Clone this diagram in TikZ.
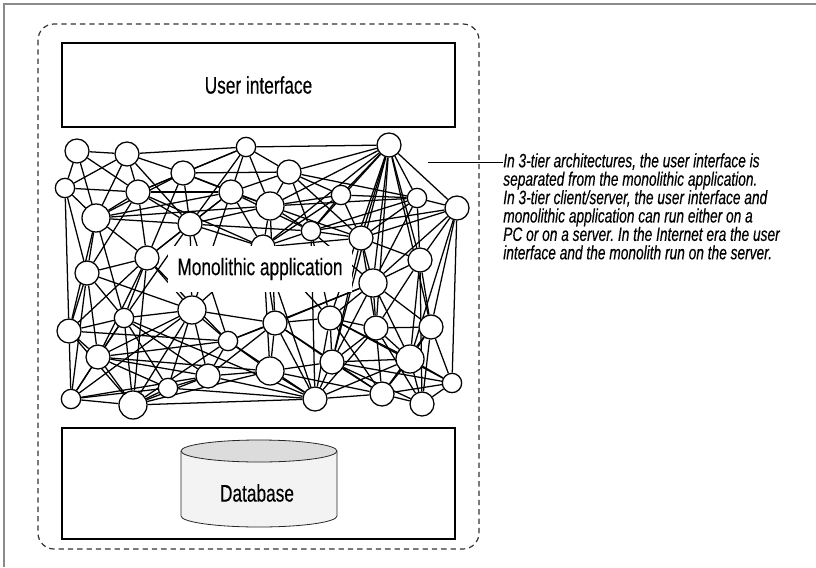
\documentclass[tikz,border=0pt]{standalone}
\usepackage{fontspec}
\setmainfont{Liberation Sans}
\newfontfamily\labelfont{Liberation Sans}[FakeStretch=0.72, FakeBold=0.3]
\newfontfamily\notefont{Liberation Sans}[FakeStretch=0.71, FakeBold=0.3]
\definecolor{framegray}{HTML}{8A8A8A}
\definecolor{dbtop}{HTML}{DCDCDC}
\definecolor{dbbody}{HTML}{F3F3F3}
\pgfdeclarelayer{edges}
\pgfsetlayers{edges,main}
\frenchspacing
\begin{document}
\begin{tikzpicture}[x=0.75pt,y=-0.75pt,
  frame/.style={draw=framegray, line width=1.1pt},
  outline/.style={draw=black!80, dash pattern=on 4pt off 3pt, line width=0.9pt, rounded corners=12pt},
  tier/.style={draw=black, line width=2pt, minimum width=294.75pt, inner sep=0pt, font=\labelfont\fontsize{18}{20}\selectfont},
  comp/.style={circle, draw=black, fill=white, line width=0.95pt, inner sep=0pt},
  csmall/.style={comp, minimum size=14.5pt},
  cmid/.style={comp, minimum size=18pt},
  cbig/.style={comp, minimum size=21pt},
  link/.style={draw=black, line width=0.95pt},
  applabel/.style={fill=white, minimum width=138pt, minimum height=34.5pt, inner sep=0pt, font=\labelfont\fontsize{18}{20}\selectfont},
  note/.style={align=left, inner sep=0pt, anchor=north west, font=\notefont\itshape\fontsize{14.5}{13.8}\selectfont},
  cyl/.style={draw=black!85, line width=0.6pt}
]
\useasboundingbox (0,0) rectangle (816,567);

% page frame (top and left edges)
\draw[frame] (4,567) -- (4,4) -- (816,4);

% dashed boundary of the server
\draw[outline] (38,24) rectangle (479,549);

% user interface tier
\node[tier, minimum height=63pt] (ui) at (258.5,85) {User interface};

% database tier
\node[tier, minimum height=83.25pt] (dbtier) at (258.5,483.5) {};
\path[fill=dbbody, cyl] (181,451) -- (181,516)
  arc[start angle=180, end angle=360, x radius=58.5pt, y radius=8.25pt] -- (337,451);
\draw[fill=dbtop, cyl] (259,451) ellipse [x radius=58.5pt, y radius=8.25pt];
\node[font=\labelfont\fontsize{18}{20}\selectfont] (db) at (257,493) {Database};

% components of the monolith
\node[cmid]   (n1)  at (77,151) {};
\node[cmid]   (n2)  at (127,154) {};
\node[csmall] (n3)  at (246,147) {};
\node[cmid]   (n4)  at (389,145) {};
\node[cmid]   (n5)  at (183,173) {};
\node[cmid]   (n6)  at (289,172) {};
\node[csmall] (n7)  at (65,188) {};
\node[cmid]   (n8)  at (138,192) {};
\node[cmid]   (n9)  at (231,192) {};
\node[cbig]   (n10) at (270,206) {};
\node[csmall] (n11) at (341,195) {};
\node[csmall] (n12) at (417,198) {};
\node[cmid]   (n13) at (457,208) {};
\node[cbig]   (n14) at (96,218) {};
\node[cmid]   (n15) at (190,224) {};
\node[csmall] (n16) at (311,231) {};
\node[cmid]   (n17) at (361,238) {};
\node[cmid]   (n18) at (147,258) {};
\node[cmid]   (n19) at (263,247) {};
\node[cmid]   (n20) at (420,260) {};
\node[cmid]   (n21) at (87,273) {};
\node[cbig]   (n22) at (373,283) {};
\node[cbig]   (n23) at (192,310) {};
\node[csmall] (n24) at (124,318) {};
\node[cmid]   (n25) at (275,323) {};
\node[cmid]   (n26) at (330,318) {};
\node[cmid]   (n27) at (376,328) {};
\node[cmid]   (n28) at (431,327) {};
\node[cmid]   (n29) at (69,331) {};
\node[csmall] (n30) at (228,341) {};
\node[cmid]   (n31) at (98,357) {};
\node[cbig]   (n32) at (270,371) {};
\node[cmid]   (n33) at (332,362) {};
\node[cbig]   (n34) at (410,359) {};
\node[csmall] (n35) at (452,383) {};
\node[cmid]   (n36) at (208,376) {};
\node[csmall] (n37) at (168,388) {};
\node[csmall] (n38) at (71,399) {};
\node[cbig]   (n39) at (133,405) {};
\node[cmid]   (n40) at (315,399) {};
\node[cmid]   (n41) at (382,394) {};
\node[cmid]   (n42) at (422,404) {};

% tangled dependencies between the components
\begin{pgfonlayer}{edges}
\foreach \a/\b in {
  n1/n2, n1/n7, n1/n8, n1/n14,
  n2/n3, n2/n5, n2/n7, n2/n8, n2/n14, n2/n15,
  n3/n4, n3/n5, n3/n6, n3/n9, n3/n10, n3/n8, n3/n15,
  n4/n6, n4/n10, n4/n11, n4/n12, n4/n13, n4/n16, n4/n17, n4/n19, n4/n20,
  n4/n22, n4/n26, n4/n27, n4/n28, n4/n33,
  n5/n6, n5/n8, n5/n9, n5/n10, n5/n14, n5/n15, n5/n18,
  n6/n9, n6/n10, n6/n11, n6/n16, n6/n17, n6/n12,
  n7/n8, n7/n14, n7/n21, n7/n29,
  n8/n9, n8/n14, n8/n15, n8/n18, n8/n21, n8/n19,
  n9/n10, n9/n14, n9/n15, n9/n18, n9/n16, n9/n19, n9/n23,
  n10/n11, n10/n15, n10/n16, n10/n17, n10/n19, n10/n12, n10/n25,
  n11/n12, n11/n16, n11/n17, n11/n19,
  n12/n13, n12/n17, n12/n20, n12/n16, n12/n22,
  n13/n17, n13/n20, n13/n22, n13/n28, n13/n34, n13/n35, n13/n16,
  n14/n15, n14/n18, n14/n21, n14/n29, n14/n24, n14/n10,
  n15/n16, n15/n18, n15/n19, n15/n23, n15/n24, n15/n30,
  n16/n17, n16/n19, n16/n22, n16/n40, n16/n26,
  n17/n20, n17/n22, n17/n19, n17/n27, n17/n33,
  n18/n21, n18/n23, n18/n24, n18/n29, n18/n31, n18/n39, n18/n30,
  n19/n25, n19/n26, n19/n23, n19/n40, n19/n32,
  n20/n22, n20/n28, n20/n34, n20/n42, n20/n27,
  n21/n23, n21/n24, n21/n29, n21/n31, n21/n38,
  n22/n25, n22/n26, n22/n27, n22/n28, n22/n33, n22/n34, n22/n30,
  n23/n24, n23/n25, n23/n30, n23/n31, n23/n36, n23/n37, n23/n38, n23/n39,
  n24/n29, n24/n31, n24/n36, n24/n37, n24/n39, n24/n40,
  n25/n26, n25/n30, n25/n32, n25/n33, n25/n40, n25/n41, n25/n36,
  n26/n27, n26/n33, n26/n40, n26/n41, n26/n34, n26/n35,
  n27/n28, n27/n33, n27/n34, n27/n41, n27/n42, n27/n40,
  n28/n34, n28/n35, n28/n41, n28/n42,
  n29/n31, n29/n38, n29/n39, n29/n30,
  n30/n36, n30/n31, n30/n32, n30/n39, n30/n40,
  n31/n36, n31/n37, n31/n38, n31/n39, n31/n32,
  n32/n33, n32/n36, n32/n40, n32/n39, n32/n41,
  n33/n40, n33/n41, n33/n34, n33/n35, n33/n42,
  n34/n35, n34/n41, n34/n42, n34/n40,
  n35/n41, n35/n42,
  n36/n37, n36/n39, n36/n40, n36/n38,
  n37/n39, n37/n38, n37/n40,
  n38/n39, n38/n24,
  n39/n40, n40/n41, n41/n42}
  \draw[link] (\a) -- (\b);
\end{pgfonlayer}

% label over the tangle
\node[applabel] (app) at (260,269) {Monolithic application};

% annotation
\coordinate (lead) at (428,162);
\node[note] (note) at (503,153) {In 3-tier architectures, the user interface is\\
separated from the monolithic application.\\
In 3-tier client/server, the user interface and\\
monolithic application can run either on a\\
PC or on a server. In the Internet era the user\\
interface and the monolith run on the server.};
\draw[line width=0.6pt] (lead) -- (lead -| note.west);
\end{tikzpicture}
\end{document}
